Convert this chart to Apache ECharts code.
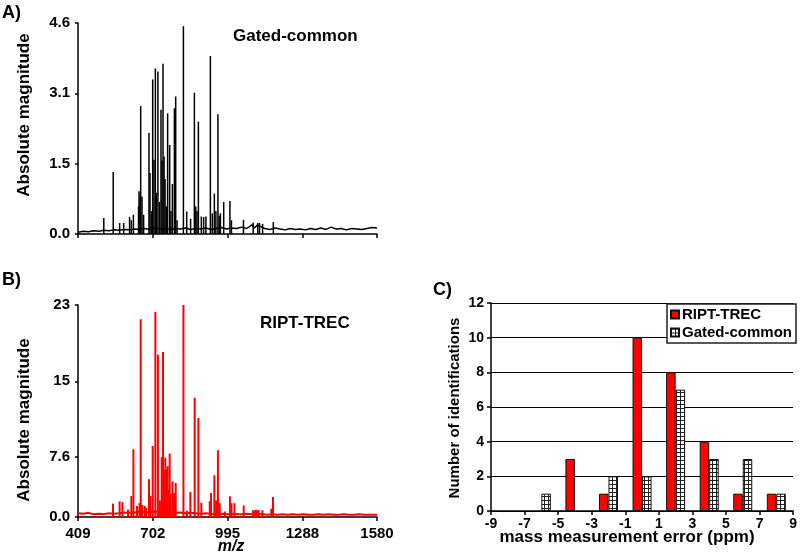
<!DOCTYPE html>
<html><head><meta charset="utf-8">
<script src="https://cdn.jsdelivr.net/npm/echarts@6/dist/echarts.min.js"></script>
<style>html,body{margin:0;padding:0;background:#fff}#c{width:800px;height:554px}</style>
</head><body><div id="c"></div>
<script>
// ---------- data ----------
const mzTickLabels = ['409', '702', '995', '1288', '1580'];
const aTickLabels = ['0.0', '1.5', '3.1', '4.6'];
const bTickValues = [0, 6.51, 14.72, 23];
const bTickLabels = ['0.0', '7.6', '15', '23'];

// Panel A (Gated-common) peaks
const gatedPeakMz  = [510, 547, 572, 588, 611, 618, 626, 646, 648, 652, 654.5, 659.6, 666, 687, 691, 697, 701.5, 706.6, 712, 716, 722, 728, 734, 738, 742, 746, 750, 755, 760, 768, 773, 778.7, 786.5, 791.6, 797, 821.8, 834.7, 850, 864.8, 870, 875, 880.5, 892, 901, 910, 927.5, 935, 943, 949, 957, 962, 966.7, 979.6, 1004, 1010, 1057, 1095, 1113, 1120, 1132, 1174];
const gatedPeakInt = [0.35, 1.35, 0.24, 0.24, 0.37, 0.30, 0.42, 0.6, 0.93, 0.8, 2.79, 0.82, 0.42, 2.2, 1.33, 0.5, 3.37, 1.62, 3.61, 0.9, 3.54, 0.7, 2.71, 1.6, 3.71, 1.69, 1.2, 0.6, 2.63, 1.94, 0.5, 1.09, 2.74, 3.0, 0.3, 4.53, 0.49, 0.33, 3.08, 0.6, 0.5, 2.45, 0.38, 0.37, 0.38, 3.88, 0.45, 0.88, 0.5, 2.61, 0.4, 0.45, 0.7, 0.72, 0.3, 0.31, 0.25, 0.24, 0.24, 0.22, 0.26];
// Panel A baseline noise
const gatedBaseMz  = [409, 430, 450, 470, 490, 510, 530, 550, 570, 590, 610, 630, 650, 670, 690, 710, 730, 750, 770, 790, 810, 830, 850, 870, 890, 910, 930, 950, 970, 990, 1010, 1030, 1050, 1070, 1090, 1100, 1110, 1125, 1140, 1160, 1180, 1200, 1220, 1240, 1260, 1280, 1300, 1320, 1340, 1360, 1380, 1400, 1420, 1440, 1460, 1480, 1500, 1520, 1540, 1560, 1580];
const gatedBaseInt = [0.04, 0.06, 0.05, 0.07, 0.06, 0.08, 0.07, 0.09, 0.08, 0.1, 0.09, 0.11, 0.1, 0.12, 0.1, 0.13, 0.11, 0.12, 0.1, 0.12, 0.11, 0.13, 0.1, 0.12, 0.11, 0.13, 0.1, 0.12, 0.14, 0.11, 0.13, 0.12, 0.15, 0.12, 0.2, 0.13, 0.19, 0.16, 0.12, 0.1, 0.13, 0.11, 0.09, 0.12, 0.1, 0.11, 0.09, 0.12, 0.1, 0.13, 0.1, 0.15, 0.11, 0.12, 0.09, 0.12, 0.11, 0.1, 0.12, 0.14, 0.13];

// Panel B (RIPT-TREC) peaks
const riptPeakMz  = [546, 572, 583, 605, 618, 626, 640, 650, 654.5, 660, 670, 676, 687, 692.5, 701.5, 712, 722, 730, 737, 742, 746, 751, 755, 760, 764, 768, 772, 779, 785, 791.6, 822, 836, 849, 866, 880.5, 892, 925, 930, 943, 950, 957, 964, 984, 1004, 1010, 1021.5, 1058, 1094, 1100, 1105, 1111, 1116.7, 1131, 1166, 1172.7];
const riptPeakInt = [1.45, 1.7, 1.6, 0.8, 2.28, 7.35, 1.2, 1.5, 21.45, 1.3, 1.2, 1.0, 4.1, 2.3, 7.7, 22.24, 17.6, 1.8, 6.5, 17.9, 5.0, 6.44, 5.2, 5.53, 3.0, 6.88, 2.5, 3.87, 2.6, 3.69, 23, 0.7, 2.71, 12.95, 10.74, 1.55, 1.7, 2.6, 4.52, 1.8, 7.24, 1.5, 0.6, 2.25, 1.5, 1.5, 1.24, 0.73, 0.7, 0.8, 0.73, 0.75, 0.73, 0.9, 2.17];
// Panel B baseline noise
const riptBaseMz  = [409, 430, 450, 470, 490, 510, 530, 550, 570, 590, 610, 630, 650, 670, 690, 710, 730, 750, 770, 790, 810, 830, 850, 870, 890, 910, 930, 950, 970, 990, 1010, 1030, 1050, 1070, 1090, 1110, 1130, 1150, 1170, 1190, 1210, 1230, 1250, 1270, 1290, 1310, 1330, 1350, 1370, 1390, 1410, 1430, 1450, 1470, 1490, 1510, 1530, 1550, 1580];
const riptBaseInt = [0.4, 0.35, 0.45, 0.3, 0.35, 0.3, 0.4, 0.35, 0.4, 0.5, 0.45, 0.5, 0.6, 0.55, 0.5, 0.6, 0.55, 0.5, 0.6, 0.45, 0.5, 0.4, 0.45, 0.4, 0.35, 0.4, 0.35, 0.3, 0.35, 0.3, 0.35, 0.3, 0.3, 0.35, 0.3, 0.35, 0.3, 0.25, 0.3, 0.25, 0.3, 0.25, 0.3, 0.25, 0.3, 0.25, 0.25, 0.3, 0.25, 0.3, 0.25, 0.25, 0.3, 0.25, 0.25, 0.3, 0.25, 0.25, 0.25];

// Panel C histogram
const errCats = [-6, -4, -2, 0, 2, 4, 6, 8];
const riptCounts = [0, 3, 1, 10, 8, 4, 1, 1];
const gatedCounts = [1, 0, 2, 2, 7, 3, 3, 1];

// ---------- chart ----------
const FONT = '"Liberation Sans", Arial, sans-serif';
const zip = (a, b) => a.map((v, i) => [v, b[i]]);
const bars = (a, b) => a.map((v, i) => [v, b[i] === 0 ? '-' : b[i]]);

const pc = document.createElement('canvas');
pc.width = 4; pc.height = 4;
const px = pc.getContext('2d');
px.fillStyle = '#fff'; px.fillRect(0, 0, 4, 4);
px.fillStyle = '#222'; px.fillRect(0, 0, 4, 1); px.fillRect(0, 0, 1, 4);
const pattern = { image: pc, repeat: 'repeat' };

const lbl = { fontFamily: FONT, fontWeight: 'bold', color: '#000' };
const axLine = { show: true, onZero: false, lineStyle: { color: '#000', width: 1.5 } };

const chart = echarts.init(document.getElementById('c'), null, { renderer: 'canvas' });
chart.setOption({
  animation: false,
  backgroundColor: '#fff',
  grid: [
    { left: 78, right: 423, top: 23, bottom: 320 },
    { left: 78, right: 423, top: 305, bottom: 37 },
    { left: 491, right: 3, top: 303, bottom: 43 }
  ],
  title: [
    { text: 'A)', left: 2, top: 4, padding: 0, textStyle: { ...lbl, fontSize: 18 } },
    { text: 'B)', left: 2, top: 271, padding: 0, textStyle: { ...lbl, fontSize: 18 } },
    { text: 'C)', left: 433, top: 281, padding: 0, textStyle: { ...lbl, fontSize: 18 } },
    { text: 'Gated-common', left: 233, top: 28, padding: 0, textStyle: { ...lbl, fontSize: 17 } },
    { text: 'RIPT-TREC', left: 260, top: 315, padding: 0, textStyle: { ...lbl, fontSize: 17 } }
  ],
  graphic: [
    { type: 'text', x: 24, y: 115, rotation: Math.PI / 2,
      style: { text: 'Absolute magnitude', font: 'bold 17px ' + FONT, align: 'center', verticalAlign: 'middle', fill: '#000' } },
    { type: 'text', x: 24, y: 420, rotation: Math.PI / 2,
      style: { text: 'Absolute magnitude', font: 'bold 17px ' + FONT, align: 'center', verticalAlign: 'middle', fill: '#000' } },
    { type: 'text', x: 231, y: 547,
      style: { text: 'm/z', font: 'italic bold 16px ' + FONT, align: 'center', verticalAlign: 'middle', fill: '#000' } },
    { type: 'text', x: 455, y: 408, rotation: Math.PI / 2,
      style: { text: 'Number of identifications', font: 'bold 15px ' + FONT, align: 'center', verticalAlign: 'middle', fill: '#000' } },
    { type: 'text', x: 627, y: 537,
      style: { text: 'mass measurement error (ppm)', font: 'bold 17px ' + FONT, align: 'center', verticalAlign: 'middle', fill: '#000' } }
  ],
  legend: {
    data: ['RIPT-TREC', 'Gated-common'],
    orient: 'vertical', left: 667, top: 304,
    itemWidth: 8, itemHeight: 8, itemGap: 3,
    padding: [3, 4, 3, 3],
    backgroundColor: '#fff', borderColor: '#222', borderWidth: 1.5, borderRadius: 0,
    textStyle: { ...lbl, fontSize: 15, padding: [0, 0, 0, -2] },
    icon: 'rect'
  },
  xAxis: [
    { gridIndex: 0, type: 'value', min: 409, max: 1580, interval: 293,
      axisLine: axLine, axisTick: { show: true, inside: false, length: 4, lineStyle: { color: '#000', width: 1.5 } },
      axisLabel: { show: false }, splitLine: { show: false } },
    { gridIndex: 1, type: 'value', min: 409, max: 1580, interval: 293,
      axisLine: axLine, axisTick: { show: true, length: 4, lineStyle: { color: '#000', width: 1.5 } },
      axisLabel: { ...lbl, fontSize: 15, margin: 9, formatter: (v) => mzTickLabels[Math.round((v - 409) / 293)] },
      splitLine: { show: false } },
    { gridIndex: 2, type: 'value', min: -9, max: 9, interval: 2,
      axisLine: axLine, axisTick: { show: true, length: 4, lineStyle: { color: '#000', width: 1.5 } },
      axisLabel: { ...lbl, fontSize: 14, margin: 6 }, splitLine: { show: false } },
    { gridIndex: 2, type: 'value', position: 'top', min: -9, max: 9,
      axisLine: { show: true, onZero: false, lineStyle: { color: '#000', width: 1 } },
      axisTick: { show: false }, axisLabel: { show: false }, splitLine: { show: false } }
  ],
  yAxis: [
    { gridIndex: 0, type: 'value', min: 0, max: 4.6, interval: 4.6 / 3,
      axisLine: axLine, axisTick: { show: true, length: 3, lineStyle: { color: '#000', width: 1.5 } },
      axisLabel: { ...lbl, fontSize: 15, margin: 8, formatter: (v) => aTickLabels[Math.round(v / (4.6 / 3))] },
      splitLine: { show: false } },
    { gridIndex: 1, type: 'value', min: 0, max: 23,
      axisLine: axLine,
      axisTick: { show: true, length: 3, customValues: bTickValues, lineStyle: { color: '#000', width: 1.5 } },
      axisLabel: { ...lbl, fontSize: 15, margin: 8, customValues: bTickValues,
        formatter: (v) => bTickLabels[bTickValues.indexOf(v)] },
      splitLine: { show: false } },
    { gridIndex: 2, type: 'value', min: 0, max: 12, interval: 2,
      axisLine: axLine, axisTick: { show: true, length: 4, lineStyle: { color: '#000', width: 1.5 } },
      axisLabel: { ...lbl, fontSize: 14, margin: 7 },
      splitLine: { show: true, lineStyle: { color: '#000', width: 1 } } }
  ],
  series: [
    { name: 'gated-base', type: 'line', xAxisIndex: 0, yAxisIndex: 0, data: zip(gatedBaseMz, gatedBaseInt),
      showSymbol: false, lineStyle: { color: '#000', width: 1.5 }, z: 2 },
    { name: 'gated-peaks', type: 'bar', xAxisIndex: 0, yAxisIndex: 0, data: zip(gatedPeakMz, gatedPeakInt),
      barWidth: 1.5, itemStyle: { color: '#000' }, z: 3 },
    { name: 'ript-base', type: 'line', xAxisIndex: 1, yAxisIndex: 1, data: zip(riptBaseMz, riptBaseInt),
      showSymbol: false, lineStyle: { color: '#ff0000', width: 2 }, z: 2 },
    { name: 'ript-peaks', type: 'bar', xAxisIndex: 1, yAxisIndex: 1, data: zip(riptPeakMz, riptPeakInt),
      barWidth: 2, itemStyle: { color: '#ff0000' }, z: 3 },
    { name: 'RIPT-TREC', type: 'bar', xAxisIndex: 2, yAxisIndex: 2, data: bars(errCats, riptCounts),
      barWidth: 9.5, barGap: '0%', itemStyle: { color: '#ff0000', borderColor: '#111', borderWidth: 1 }, z: 3 },
    { name: 'Gated-common', type: 'bar', xAxisIndex: 2, yAxisIndex: 2, data: bars(errCats, gatedCounts),
      barWidth: 9.5, barGap: '0%', itemStyle: { color: pattern, borderColor: '#111', borderWidth: 1 }, z: 3 }
  ]
});
</script>
</body></html>
